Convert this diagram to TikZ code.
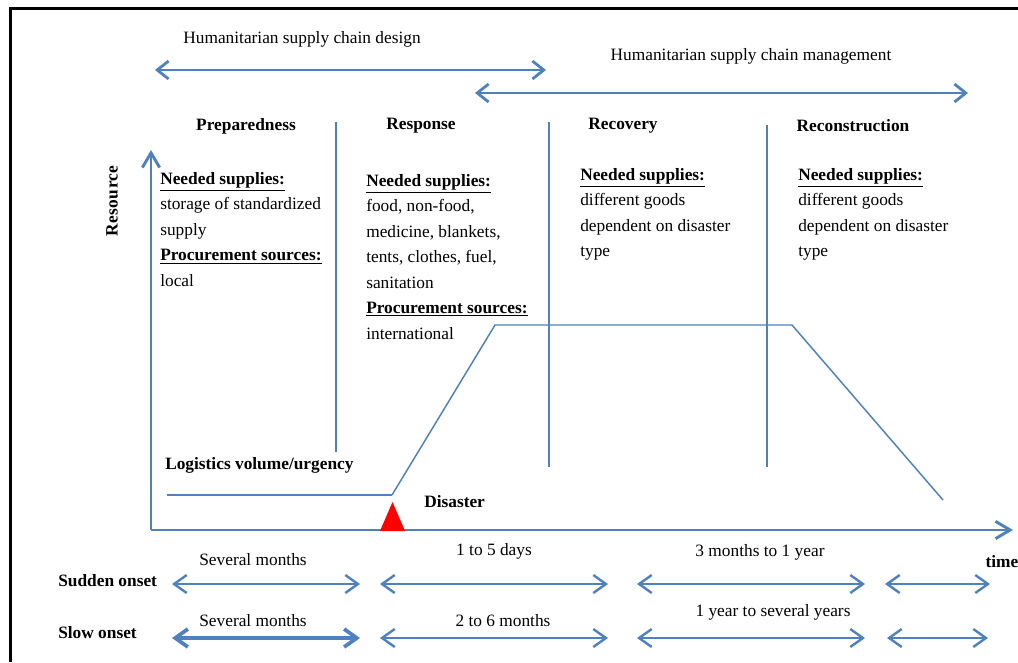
\documentclass[tikz,border=0pt]{standalone}
\usepackage{fontspec}
\setmainfont{Liberation Serif}
\usetikzlibrary{arrows.meta}
\definecolor{ob}{HTML}{4F81BD}
\begin{document}
\begin{tikzpicture}[x=0.75pt,y=-0.75pt,
  txt/.style={font=\fontsize{13}{19.1}\selectfont, inner sep=0pt, align=left, anchor=north west},
  lbl/.style={font=\fontsize{13}{15}\selectfont, inner sep=0pt},
  bl/.style={font=\fontsize{13}{15}\selectfont\bfseries, inner sep=0pt},
  toparrow/.style={{Straight Barb[length=8.5pt,width=13.5pt]}-{Straight Barb[length=8.5pt,width=13.5pt]}, draw=ob, line width=2.1pt},
  botarrow/.style={{Straight Barb[length=9.5pt,width=13.5pt]}-{Straight Barb[length=9.5pt,width=13.5pt]}, draw=ob, line width=1.8pt},
  axis/.style={-{Straight Barb[length=11pt,width=13pt]}, draw=ob, line width=2.2pt},
  divider/.style={draw=ob, line width=1.5pt},
  curve/.style={draw=ob, line width=1.1pt},
]
\useasboundingbox (0,0) rectangle (1018,662);
\fill[white] (0,0) rectangle (1018,662);
% frame
\draw[black, line width=2.3pt] (10.5,662) -- (10.5,8.5) -- (1018,8.5);

% top arrows
\coordinate (d1) at (155,70); \coordinate (d2) at (546,70);
\coordinate (m1) at (475,93); \coordinate (m2) at (968,93);
\draw[toparrow] (d1) -- (d2);
\draw[toparrow] (m1) -- (m2);
\node[lbl] (design) at (302,39) {Humanitarian supply chain design};
\node[lbl] (mgmt) at (751,56) {Humanitarian supply chain management};

% phase titles
\node[bl] (prep) at (246,126) {Preparedness};
\node[bl] (resp) at (421,126) {Response};
\node[bl] (reco) at (623,126) {Recovery};
\node[bl] (reco2) at (853,126) {Reconstruction};

% dividers
\coordinate (v1a) at (336,122); \coordinate (v1b) at (336,452);
\coordinate (v2a) at (549,122); \coordinate (v2b) at (549,467);
\coordinate (v3a) at (767,125); \coordinate (v3b) at (767,467);
\draw[divider] (v1a) -- (v1b);
\draw[divider] (v2a) -- (v2b);
\draw[divider] (v3a) -- (v3b);

% axes
\coordinate (o) at (151,530);
\coordinate (ytop) at (151,150);
\coordinate (xend) at (1013,530);
\draw[axis] (o) -- (ytop);
\draw[axis] (o) -- (xend);
\node[bl, rotate=90] (res) at (112,201) {Res\kern0.5pt o\kern0.5pt u\kern0.5pt rce};
\node[bl] (time) at (1002,562) {time};

% text blocks
\node[txt] (t1) at (160,172) {\underline{\textbf{Needed supplies:}}\\storage of standardized\\supply\\\underline{\textbf{Procurement sources:}}\\local};
\node[txt] (t2) at (366,174) {\underline{\textbf{Needed supplies:}}\\food, non-food,\\medicine, blankets,\\tents, clothes, fuel,\\sanitation\\\underline{\textbf{Procurement sources:}}\\international};
\node[txt] (t3) at (580,168) {\underline{\textbf{Needed supplies:}}\\different goods\\dependent on disaster\\type};
\node[txt] (t4) at (798,168) {\underline{\textbf{Needed supplies:}}\\different goods\\dependent on disaster\\type};

% logistics curve
\coordinate (l0) at (167,495);
\coordinate (l1) at (392,495);
\coordinate (l2) at (495,325);
\coordinate (l3) at (792,325);
\coordinate (l4) at (943,500);
\draw[draw=ob, line width=2.2pt] (l0) -- (l1);
\draw[curve] (l1) -- (l2) -- (l3) -- (l4);
\node[bl, anchor=west] (logv) at (165,465) {Logistics volume/urgency};

% disaster
\fill[red] (380,531) -- (392.5,502) -- (405,531) -- cycle;
\node[bl, anchor=west] (dis) at (424,502) {Disaster};

% bottom rows
\node[bl, anchor=west] (sud) at (58,581) {Sudden onset};
\node[bl, anchor=west] (slow) at (58,633) {Slow onset};

\coordinate (s1a) at (172,584); \coordinate (s1b) at (360,584);
\coordinate (s2a) at (380,584); \coordinate (s2b) at (608,584);
\coordinate (s3a) at (637,584); \coordinate (s3b) at (865,584);
\coordinate (s4a) at (885,584); \coordinate (s4b) at (990,584);
\draw[botarrow] (s1a) -- (s1b);
\draw[botarrow] (s2a) -- (s2b);
\draw[botarrow] (s3a) -- (s3b);
\draw[botarrow] (s4a) -- (s4b);

\coordinate (w1a) at (172,638); \coordinate (w1b) at (360,638);
\coordinate (w2a) at (380,638); \coordinate (w2b) at (608,638);
\coordinate (w3a) at (637,638); \coordinate (w3b) at (865,638);
\coordinate (w4a) at (887,638); \coordinate (w4b) at (988,638);
\draw[botarrow, line width=2.8pt] (w1a) -- (w1b);
\draw[botarrow] (w2a) -- (w2b);
\draw[botarrow] (w3a) -- (w3b);
\draw[botarrow] (w4a) -- (w4b);

\node[lbl] (sm1) at (253,560) {Several months};
\node[lbl] (d15) at (494,551) {1 to 5 days};
\node[lbl] (m31) at (760,552) {3 months to 1 year};
\node[lbl] (sm2) at (253,621) {Several months};
\node[lbl] (m26) at (503,621) {2 to 6 months};
\node[lbl] (y1) at (773,612) {1 year to several years};
\end{tikzpicture}
\end{document}
